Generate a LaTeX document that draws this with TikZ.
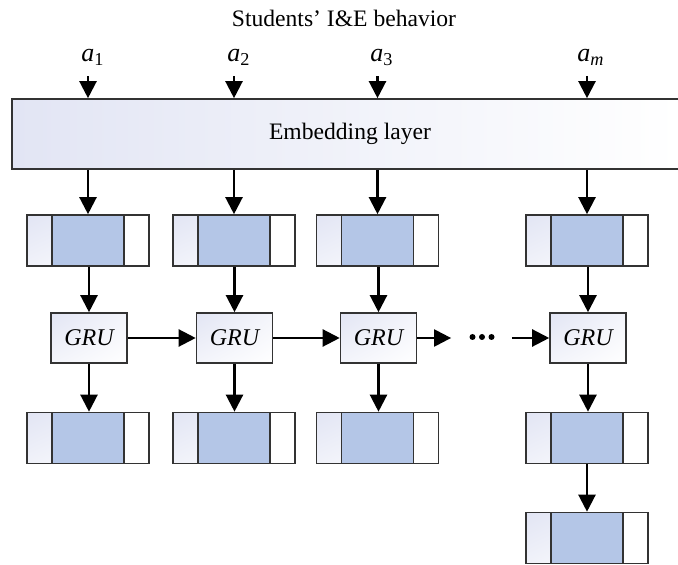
\documentclass[tikz,border=0pt]{standalone}
\usepackage{fontspec}
\setmainfont{Liberation Serif}
\usetikzlibrary{arrows.meta,shadings}
\definecolor{tint}{HTML}{E2E5F4}
\definecolor{cellblue}{HTML}{B4C6E7}
\definecolor{boxline}{HTML}{333333}
\begin{document}
\begin{tikzpicture}[x=0.5pt,y=-0.5pt,
  arr/.style={line width=1.15pt,-{Triangle[length=8.5pt,width=8.5pt]}},
  lbl/.style={font=\fontsize{13}{15}\selectfont\itshape,inner sep=0pt,anchor=base},
  txt/.style={font=\fontsize{11.8}{14}\selectfont},
  embbox/.style={draw=boxline,line width=0.8pt,left color=tint,right color=white,
    minimum width=333.5pt,minimum height=35pt},
  grubox/.style={draw=boxline,line width=0.8pt,upper left=tint,lower right=white,
    upper right=tint!40,lower left=tint!40,minimum width=38pt,minimum height=25pt,
    inner sep=0pt,font=\fontsize{12}{14}\selectfont\itshape},
  cell/.style={draw=boxline,line width=0.8pt,fill=white,minimum width=61pt,
    minimum height=25.5pt,inner sep=0pt,
    path picture={
      \shade[upper left=tint,lower left=tint!50,upper right=tint!40,lower right=white]
        (path picture bounding box.south west) rectangle
        ([xshift=12.5pt]path picture bounding box.north west);
      \fill[cellblue]
        ([xshift=12.5pt]path picture bounding box.south west) rectangle
        ([xshift=-12.5pt]path picture bounding box.north east);
      \draw[boxline,line width=0.8pt]
        ([xshift=12.5pt]path picture bounding box.south west) --
        ([xshift=12.5pt]path picture bounding box.north west)
        ([xshift=-12.5pt]path picture bounding box.south east) --
        ([xshift=-12.5pt]path picture bounding box.north east);
    }}]
\useasboundingbox (0,0) rectangle (678,565);

% title and inputs
\node[txt] (title) at (344,18) {Students’ I\&E behavior};
\node[lbl] (a1) at (93,62) {a\textsubscript{\upshape 1}};
\node[lbl] (a2) at (239,62) {a\textsubscript{\upshape 2}};
\node[lbl] (a3) at (382,62) {a\textsubscript{\upshape 3}};
\node[lbl] (am) at (591,62) {a\textsubscript{m}};

% embedding layer
\node[embbox] (emb) at (345.5,134) {};
\node[txt] (embtxt) at (350,134) {Embedding layer};

% embedded vectors
\node[cell] (c1) at (88,240.5) {};
\node[cell] (c2) at (234,240.5) {};
\node[cell] (c3) at (377.5,240.5) {};
\node[cell] (cm) at (587,240.5) {};

% recurrent units
\node[grubox] (g1) at (89,338) {GRU};
\node[grubox] (g2) at (234.5,338) {GRU};
\node[grubox] (g3) at (378.5,338) {GRU};
\node[grubox] (gm) at (588,338) {GRU};
\node[inner sep=0pt,minimum width=11.5pt,minimum height=3pt] (dots) at (482,337) {};
\foreach \dx in {-9.5,0,9.5} \fill ([xshift=\dx*0.5pt]dots.center) circle (1.5pt);

% hidden outputs
\node[cell] (o1) at (88,438) {};
\node[cell] (o2) at (234,438) {};
\node[cell] (o3) at (377.5,438) {};
\node[cell] (om) at (587,438) {};
\node[cell] (ol) at (587,538) {};

% connectors
\foreach \a/\c in {a1/c1,a2/c2,a3/c3,am/cm}{
  \draw[arr] ([yshift=-5pt]\a.south -| \c) -- (emb.north -| \c);
  \draw[arr] (emb.south -| \c) -- (\c.north);
}
\foreach \c/\g/\o in {c1/g1/o1,c2/g2/o2,c3/g3/o3,cm/gm/om}{
  \draw[arr] (\c.south -| \g) -- (\g.north);
  \draw[arr] (\g.south) -- (\o.north -| \g);
}
\draw[arr] (g1) -- (g2);
\draw[arr] (g2) -- (g3);
\draw[arr,shorten >=9.5pt] (g3.east) -- (dots.west |- g3.east);
\draw[arr,shorten <=9pt] (dots.east |- gm.west) -- (gm.west);
\draw[arr] (om) -- (ol);
\end{tikzpicture}
\end{document}
